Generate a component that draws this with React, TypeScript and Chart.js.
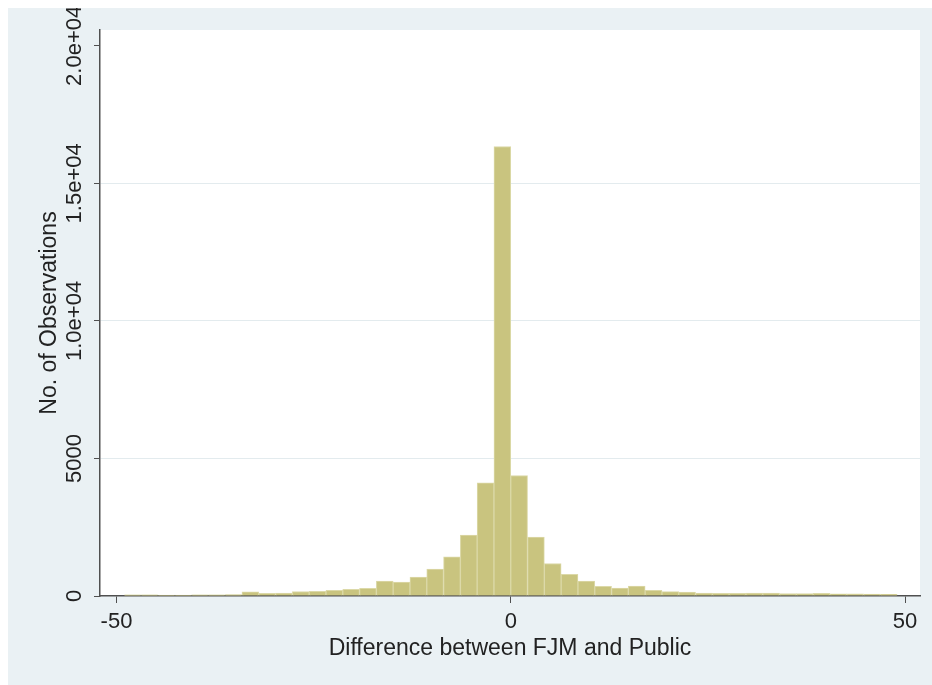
import { useEffect, useRef } from "react";
import { Chart, registerables } from "chart.js";

Chart.register(...registerables);

// Histogram bins (centres of 46 equal-width bins from -49 to 49)
const binCenters = [
  -47.935, -45.804, -43.674, -41.543, -39.413, -37.283, -35.152, -33.022,
  -30.891, -28.761, -26.63, -24.5, -22.37, -20.239, -18.109, -15.978,
  -13.848, -11.717, -9.587, -7.457, -5.326, -3.196, -1.065, 1.065,
  3.196, 5.326, 7.457, 9.587, 11.717, 13.848, 15.978, 18.109,
  20.239, 22.37, 24.5, 26.63, 28.761, 30.891, 33.022, 35.152,
  37.283, 39.413, 41.543, 43.674, 45.804, 47.935,
];

// Observation counts per bin
const binCounts = [
  45, 40, 35, 35, 40, 45, 50, 150,
  100, 105, 165, 170, 205, 245, 280, 540,
  510, 690, 975, 1420, 2210, 4110, 16340, 4380,
  2140, 1180, 790, 545, 350, 290, 365, 205,
  160, 145, 110, 100, 95, 110, 105, 90,
  85, 100, 80, 75, 70, 65,
];

const xTickValues = [-50, 0, 50];
const yTickValues = [0, 5000, 10000, 15000, 20000];
const yTickLabels = ["0", "5000", "1.0e+04", "1.5e+04", "2.0e+04"];
const xTitle = "Difference between FJM and Public";
const yTitle = "No. of Observations";

const FONT = "'Liberation Sans', Arial, sans-serif";
const W = 924;
const H = 677;
const TEXT = "#222222";
const AXIS = "#505050";

const backdrop = {
  id: "backdrop",
  beforeDraw(chart: any) {
    const { ctx, chartArea: a } = chart;
    ctx.save();
    ctx.fillStyle = "#eaf1f4";
    ctx.fillRect(0, 0, chart.width, chart.height);
    ctx.fillStyle = "#ffffff";
    ctx.fillRect(a.left, a.top, a.right - a.left, a.bottom - a.top);
    ctx.restore();
  },
};

// Vertical y tick labels, reading bottom to top
const verticalYLabels = {
  id: "verticalYLabels",
  afterDraw(chart: any) {
    const { ctx } = chart;
    const y = chart.scales.y;
    ctx.save();
    ctx.fillStyle = TEXT;
    ctx.font = `22px ${FONT}`;
    ctx.textAlign = "center";
    ctx.textBaseline = "middle";
    yTickValues.forEach((v, i) => {
      const py = y.getPixelForValue(v);
      ctx.save();
      ctx.translate(chart.chartArea.left - 25, py);
      ctx.rotate(-Math.PI / 2);
      ctx.fillText(yTickLabels[i], 0, 0);
      ctx.restore();
    });
    ctx.restore();
  },
};

export default function App() {
  const ref = useRef<HTMLCanvasElement | null>(null);

  useEffect(() => {
    const canvas = ref.current;
    if (!canvas) return;
    const chart = new Chart(canvas, {
      type: "bar",
      data: {
        datasets: [
          {
            data: binCenters.map((x, i) => ({ x, y: binCounts[i] })),
            backgroundColor: "#c9c47f",
            borderColor: "#dcd9a8",
            borderWidth: 1,
            barPercentage: 1,
            categoryPercentage: 1,
            grouped: false,
          } as any,
        ],
      },
      options: {
        responsive: false,
        animation: false,
        devicePixelRatio: 1,
        layout: { padding: { left: 0, top: 22, right: 12, bottom: 0 } },
        plugins: {
          legend: { display: false },
          tooltip: { enabled: false },
        },
        scales: {
          x: {
            type: "linear",
            min: -52.09,
            max: 51.9,
            offset: false,
            grid: {
              display: true,
              drawOnChartArea: false,
              drawTicks: true,
              tickLength: 7,
              tickColor: AXIS,
              offset: false,
            },
            border: { display: true, color: AXIS, width: 1.5 },
            ticks: {
              color: TEXT,
              font: { family: FONT, size: 22 },
              padding: 6,
              maxRotation: 0,
              autoSkip: false,
            },
            afterBuildTicks: (s: any) => {
              s.ticks = xTickValues.map((v) => ({ value: v }));
            },
            afterFit: (s: any) => {
              s.height = H - 588;
            },
            title: {
              display: true,
              text: xTitle,
              color: TEXT,
              font: { family: FONT, size: 23 },
              padding: { top: 0, bottom: 23 },
            },
          },
          y: {
            type: "linear",
            min: 0,
            max: 20575,
            grid: {
              display: true,
              drawTicks: true,
              tickLength: 6,
              tickColor: AXIS,
              color: (c: any) =>
                c.tick && (c.tick.value === 0 || c.tick.value === 20000)
                  ? "rgba(0,0,0,0)"
                  : "#e3ebee",
            },
            border: { display: true, color: AXIS, width: 1.5 },
            ticks: { display: false },
            afterBuildTicks: (s: any) => {
              s.ticks = yTickValues.map((v) => ({ value: v }));
            },
            afterFit: (s: any) => {
              s.width = 92;
            },
            title: {
              display: true,
              text: yTitle,
              color: TEXT,
              font: { family: FONT, size: 23 },
              padding: { top: 28, bottom: 0 },
            },
          },
        },
      } as any,
      plugins: [backdrop, verticalYLabels],
    });
    return () => chart.destroy();
  }, []);

  return (
    <div style={{ position: "fixed", left: 8, top: 8, width: W, height: H }}>
      <canvas
        ref={ref}
        width={W}
        height={H}
        style={{ display: "block", width: W, height: H }}
      />
    </div>
  );
}
